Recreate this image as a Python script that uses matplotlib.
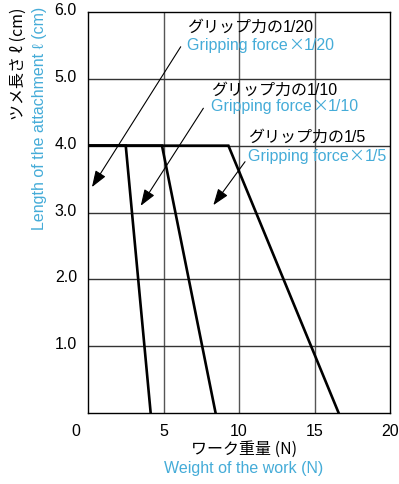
import matplotlib.pyplot as plt
from matplotlib.transforms import ScaledTranslation

# data
ratios = ['1/20', '1/10', '1/5']
x_1_20 = [0, 2.5, 4.15]
x_1_10 = [0, 4.9, 8.45]
x_1_5 = [0, 9.3, 16.6]
y_len = [4.0, 4.0, 0.0]

x_ticks = [0, 5, 10, 15, 20]
y_ticks = [1.0, 2.0, 3.0, 4.0, 5.0, 6.0]

# annotation label x, baselines of jp / en lines, arrow tails and tips (data coords)
label_x = [6.56, 8.15, 10.58]
jp_base = [5.705, 4.758, 4.051]
en_base = [5.432, 4.519, 3.771]
arrow_tail = [(6.14, 5.48), (7.64, 4.56), (10.4, 3.76)]
arrow_tip = [(0.26, 3.38), (3.49, 3.10), (8.3, 3.11)]

BLUE = '#45acd8'
JP = ['Noto Sans CJK JP', 'DejaVu Sans']
EN = ['Liberation Sans', 'DejaVu Sans']
FS = 11.5

fig = plt.figure(figsize=(3.99, 4.84), dpi=100)
ax = fig.add_axes([88 / 399, 1 - 413 / 484, 302 / 399, 401 / 484])

for xs in (x_1_20, x_1_10, x_1_5):
    ax.plot(xs, y_len, color='black', lw=1.9, solid_joinstyle='miter', zorder=3)

for x in x_ticks[1:-1]:
    ax.axvline(x, color='#555555', lw=1.0, zorder=1)
for y in y_ticks[:-1]:
    ax.axhline(y, color='#333333', lw=1.0, zorder=1)

ax.set_xlim(0, 20)
ax.set_ylim(0, 6)
ax.set_xticks(x_ticks)
ax.set_yticks(y_ticks)
ax.set_xticklabels([str(v) for v in x_ticks], family=EN, fontsize=FS)
ax.set_yticklabels(['%.1f' % v for v in y_ticks], family=EN, fontsize=FS)
ax.tick_params(length=0, pad=8)
for sp in ax.spines.values():
    sp.set_linewidth(1.0)
    sp.set_color('black')

# small offsets seen in the reference labels
for lab in ax.get_yticklabels():
    lab.set_transform(lab.get_transform() + ScaledTranslation(0, 3 / 100, fig.dpi_scale_trans))
xl = ax.get_xticklabels()
xl[0].set_transform(xl[0].get_transform() + ScaledTranslation(-12 / 100, 0, fig.dpi_scale_trans))

renderer = fig.canvas.get_renderer()
inv = ax.transData.inverted()


def text_run(x, y, pieces, color):
    # place text pieces one after another on the same baseline
    for piece, fam in pieces:
        t = ax.text(x, y, piece, family=fam, fontsize=FS, color=color,
                    ha='left', va='baseline')
        bb = t.get_window_extent(renderer)
        x = inv.transform((bb.x1, bb.y0))[0]


for r, lx, yj, ye, tail, tip in zip(ratios, label_x, jp_base, en_base, arrow_tail, arrow_tip):
    text_run(lx, yj, [('グリップ力の', JP), (r, EN)], 'black')
    text_run(lx, ye, [('Gripping force', EN), ('×', JP), (r, EN)], BLUE)
    ax.annotate('', xy=tip, xytext=tail,
                arrowprops=dict(arrowstyle='-|>,head_length=0.5,head_width=0.18',
                                color='black', lw=0.8,
                                mutation_scale=20, shrinkA=0, shrinkB=0))

# axis titles
fig.text(244 / 399, 1 - 449 / 484, 'ワーク重量 (N)', family=JP, fontsize=FS,
         ha='center', va='center')
fig.text(244 / 399, 1 - 468 / 484, 'Weight of the work (N)', family=EN, fontsize=FS,
         color=BLUE, ha='center', va='center')
fig.text(18 / 399, 1 - 7 / 484, 'ツメ長さ ℓ (cm)', family=JP, fontsize=FS,
         rotation=90, ha='center', va='top')
fig.text(40 / 399, 1 - 7 / 484, 'Length of the attachment ℓ (cm)', family=EN,
         fontsize=FS, color=BLUE, rotation=90, ha='center', va='top')

fig.savefig('out.png', dpi=100)
